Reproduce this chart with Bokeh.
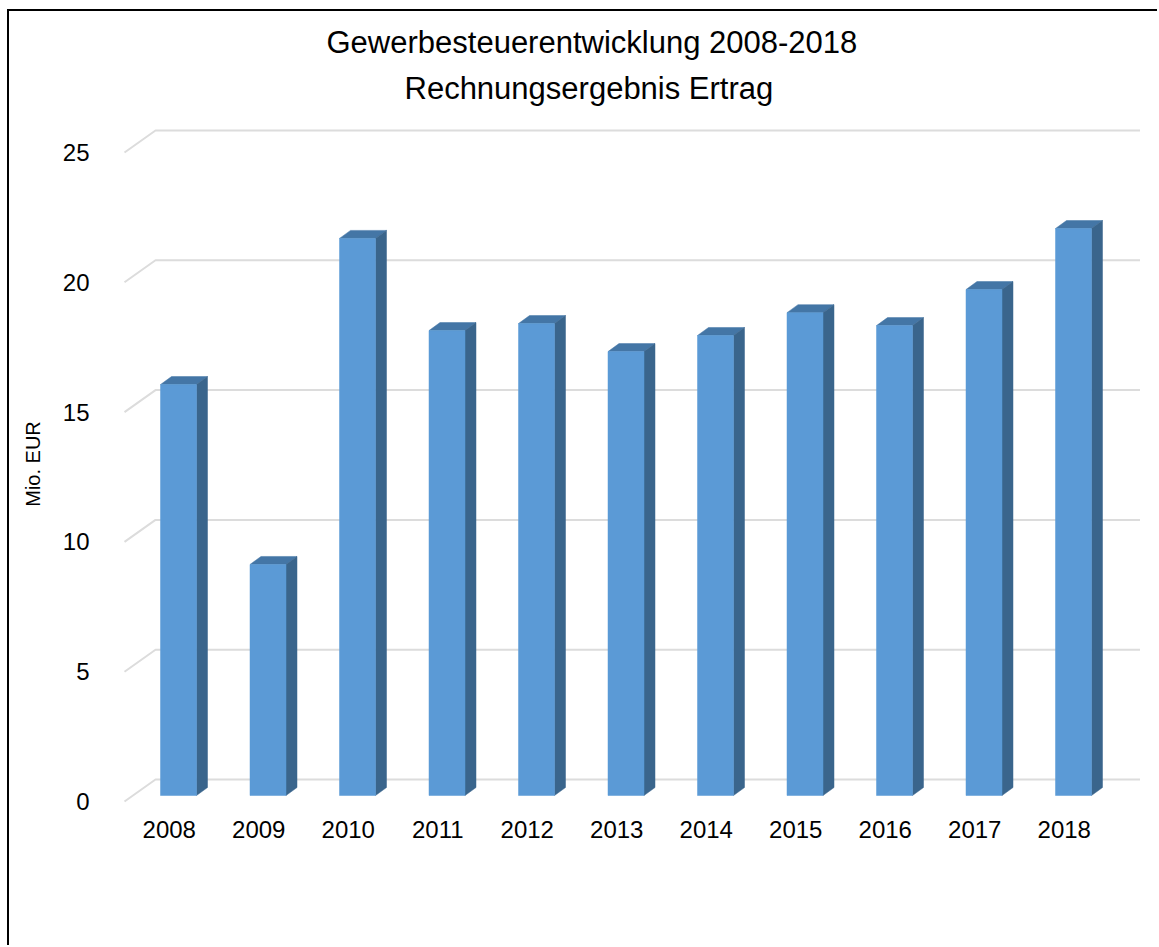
from bokeh.plotting import figure
from bokeh.models import Range1d, FixedTicker, Title
from bokeh.embed import file_html
from bokeh.resources import INLINE

years = ["2008","2009","2010","2011","2012","2013","2014","2015","2016","2017","2018"]
values = [15.83, 8.9, 21.46, 17.91, 18.18, 17.1, 17.72, 18.6, 18.1, 19.49, 21.84]
y_ticks = [0, 5, 10, 15, 20, 25]
title_lines = ["Gewerbesteuerentwicklung 2008-2018", "Rechnungsergebnis Ertrag"]
y_title = "Mio. EUR"

FONT = "Liberation Sans"
W, H = 1159, 947
CANVAS_X, CANVAS_Y = 9, 11          # page pixel where the canvas starts, inside the picture frame
PX_X, PX_Y = 89.5, 25.96
ORIG_X, ORIG_Y = 124, 801           # page pixel of the chart's front corner
LEFT_PAD, BOTTOM_PAD, RIGHT_END, TOP_END = 5, 6, 1142, 120
WALL_DX, WALL_DY = 31 / PX_X, 22 / PX_Y
BAR_X0, BAR_X1 = 36 / PX_X, 72 / PX_X
BAR_BASE = 6 / PX_Y
DEPTH_X, DEPTH_Y = 11 / PX_X, 8 / PX_Y

p = figure(width=W - CANVAS_X, height=H - CANVAS_Y, output_backend="svg", toolbar_location=None,
           x_range=Range1d(-LEFT_PAD / PX_X, (RIGHT_END - ORIG_X) / PX_X),
           y_range=Range1d(-BOTTOM_PAD / PX_Y, (ORIG_Y - TOP_END) / PX_Y),
           min_border_left=ORIG_X - LEFT_PAD - CANVAS_X,
           min_border_right=W - RIGHT_END,
           min_border_top=TOP_END - CANVAS_Y,
           min_border_bottom=H - ORIG_Y - BOTTOM_PAD,
           background_fill_color="white", border_fill_color="white",
           title=None,
           styles={"position": "absolute", "left": "7px", "top": "9px",
                   "border-left": "2px solid #000000", "border-top": "2px solid #000000"})
p.outline_line_color = None
p.grid.visible = False

xa = p.xaxis[0]
xa.ticker = FixedTicker(ticks=[i + 0.5 for i in range(len(years))])
xa.major_label_overrides = {i + 0.5: y for i, y in enumerate(years)}
ya = p.yaxis[0]
ya.ticker = FixedTicker(ticks=y_ticks)
ya.axis_label = y_title
ya.axis_label_text_font = FONT
ya.axis_label_text_font_style = "normal"
ya.axis_label_text_font_size = "20px"
ya.axis_label_text_color = "#000000"
ya.axis_label_standoff = 16
for a in (xa, ya):
    a.axis_line_color = None
    a.major_tick_line_color = None
    a.minor_tick_line_color = None
    a.major_label_text_font = FONT
    a.major_label_text_font_size = "24px"
    a.major_label_text_color = "#000000"
xa.major_label_standoff = 7
ya.major_label_standoff = 24

# gridlines: left wall diagonal plus back wall line
x_end = len(years) + WALL_DX
p.multi_line(
    [[0, WALL_DX, x_end] for _ in y_ticks],
    [[v, v + WALL_DY, v + WALL_DY] for v in y_ticks],
    line_color="#DCDCDC", line_width=2)

# 3-D columns
bx0 = [i + BAR_X0 for i in range(len(years))]
bx1 = [i + BAR_X1 for i in range(len(years))]
tops = [v + BAR_BASE for v in values]
p.patches(
    [[a, a + DEPTH_X, b + DEPTH_X, b] for a, b in zip(bx0, bx1)],
    [[t, t + DEPTH_Y, t + DEPTH_Y, t] for t in tops],
    fill_color="#4476A6", line_color="#4476A6", line_width=0.5)
p.patches(
    [[b, b + DEPTH_X, b + DEPTH_X, b] for b in bx1],
    [[BAR_BASE, BAR_BASE + DEPTH_Y, t + DEPTH_Y, t] for t in tops],
    fill_color="#3A658C", line_color="#3A658C", line_width=0.5)
p.quad(left=bx0, right=bx1, bottom=BAR_BASE, top=tops,
       fill_color="#5B9AD6", line_color="#5B9AD6", line_width=0.5)

# title, two lines
for txt, off, standoff in zip(reversed(title_lines), (285, 207), (25, -6)):
    p.add_layout(Title(text=txt, align="left", vertical_align="top", offset=off, standoff=standoff,
                       text_font=FONT, text_font_size="31px", text_font_style="normal",
                       text_color="#000000"), "above")

open("out.html", "w").write(file_html(p, INLINE))
